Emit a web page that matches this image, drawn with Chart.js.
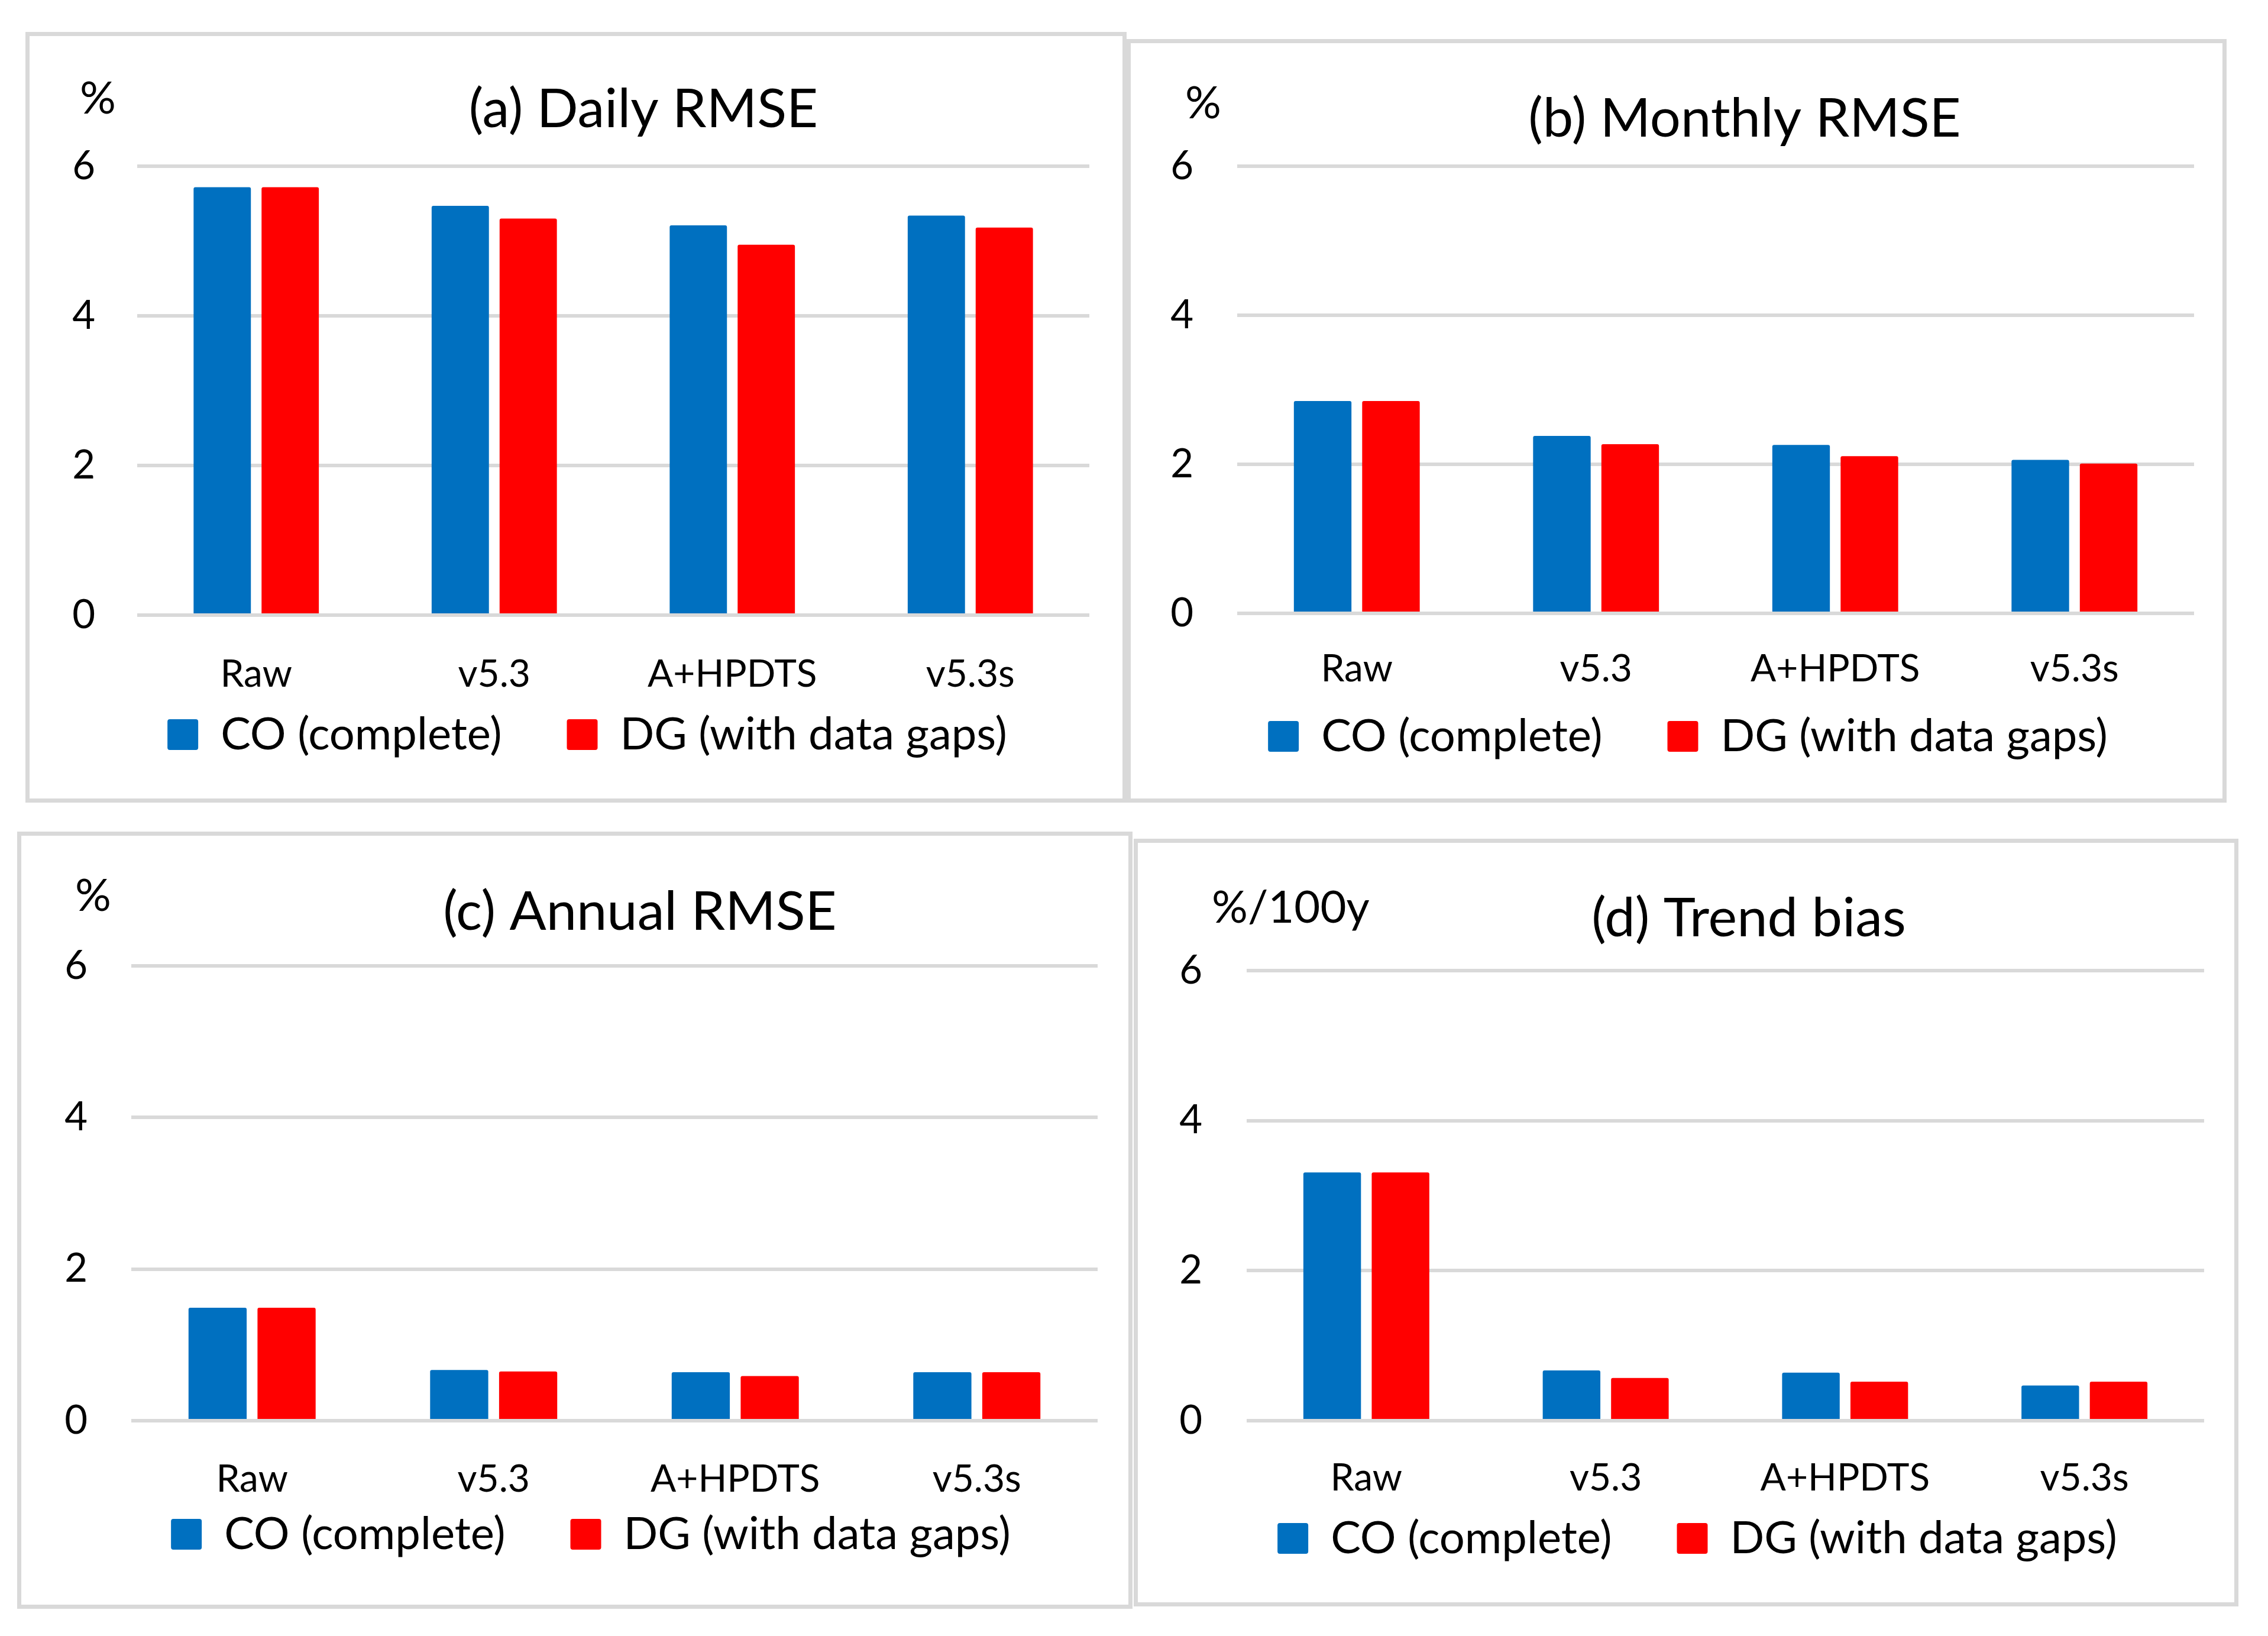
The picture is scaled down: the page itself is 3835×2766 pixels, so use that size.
<!DOCTYPE html>
<html>
<head>
<meta charset="utf-8">
<script src="https://cdn.jsdelivr.net/npm/chart.js@4.4.1/dist/chart.umd.min.js"></script>
<style>
  html, body { margin: 0; padding: 0; background: #ffffff; }
  body { width: 3835px; height: 2766px; position: relative; overflow: hidden; }
  .panel { position: absolute; box-sizing: border-box; border: 7px solid #d9d9d9; background: #fff; }
  .panel canvas { display: block; }
</style>
</head>
<body>
<div class="panel" id="pa" style="left:43px;top:54px;width:1862px;height:1303px;"><canvas id="ca"></canvas></div>
<div class="panel" id="pb" style="left:1905px;top:66px;width:1860px;height:1291px;"><canvas id="cb"></canvas></div>
<div class="panel" id="pc" style="left:29px;top:1406px;width:1886px;height:1314px;"><canvas id="cc"></canvas></div>
<div class="panel" id="pd" style="left:1917px;top:1418px;width:1868px;height:1298px;"><canvas id="cd"></canvas></div>
<script>
// ---- data ----
const categories = ['Raw', 'v5.3', 'A+HPDTS', 'v5.3s'];
const seriesNames = ['CO (complete)', 'DG (with data gaps)'];
const titles = ['(a) Daily RMSE', '(b) Monthly RMSE', '(c) Annual RMSE', '(d) Trend bias'];
const units = ['%', '%', '%', '%/100y'];
const yTicks = [0, 2, 4, 6];

const dailyCO   = [5.72, 5.47, 5.21, 5.34];
const dailyDG   = [5.72, 5.30, 4.95, 5.18];
const monthlyCO = [2.85, 2.38, 2.26, 2.06];
const monthlyDG = [2.85, 2.27, 2.11, 2.01];
const annualCO  = [1.49, 0.67, 0.64, 0.64];
const annualDG  = [1.49, 0.65, 0.59, 0.64];
const trendCO   = [3.31, 0.67, 0.64, 0.47];
const trendDG   = [3.31, 0.57, 0.52, 0.52];

// ---- styles / layout ----
const FONT = 'Lato';
const COLORS = ['#0070C0', '#FF0000'];
const GRID = '#d9d9d9';
const SIZES = { tick: 67, cat: 64, legend: 76, title: 92, unit: 76, legendBox: 52, legendGap: 110 };

const panels = [
  { canvas: 'ca', co: dailyCO,   dg: dailyDG,   W: 1848, H: 1289, top: 220, bottom: 979, left: 182, right: 1792, legendY: 1181, legendX: 943, catY: 1073, tickRight: 111, titleX: 1038, titleY: 124, unitX: 85,  unitY: 106 },
  { canvas: 'cb', co: monthlyCO, dg: monthlyDG, W: 1846, H: 1277, top: 208, bottom: 964, left: 180, right: 1798, legendY: 1172, legendX: 942, catY: 1052, tickRight: 106, titleX: 1038, titleY: 128, unitX: 92,  unitY: 102 },
  { canvas: 'cc', co: annualCO,  dg: annualDG,  W: 1872, H: 1300, top: 220, bottom: 989, left: 186, right: 1820, legendY: 1181, legendX: 963, catY: 1082, tickRight: 112, titleX: 1046, titleY: 129, unitX: 91,  unitY: 102 },
  { canvas: 'cd', co: trendCO,   dg: trendDG,   W: 1854, H: 1284, top: 216, bottom: 977, left: 184, right: 1803, legendY: 1176, legendX: 946, catY: 1068, tickRight: 109, titleX: 1033, titleY: 128, unitX: 125, unitY: 110 }
];

const panelText = {
  id: 'panelText',
  afterLayout(chart, args, opts) {
    // place the legend row centred on opts.legendX with its items centred on opts.legendY
    const lg = chart.legend;
    if (!lg) return;
    const p = lg.options.labels.padding;
    const ih = Math.max(SIZES.legend, SIZES.legendBox);
    lg.left = opts.legendX - 3000;
    lg.right = opts.legendX + 3000;
    lg.top = opts.legendY - p - ih / 2;
    lg.bottom = lg.top + ih + p + 10;
  },
  afterDraw(chart, args, opts) {
    const ctx = chart.ctx;
    ctx.save();
    ctx.fillStyle = '#000';
    ctx.textBaseline = 'middle';
    ctx.textAlign = 'center';
    ctx.font = SIZES.title + 'px ' + FONT;
    ctx.fillText(opts.title, opts.titleX, opts.titleY);
    ctx.textAlign = 'left';
    ctx.font = SIZES.unit + 'px ' + FONT;
    ctx.fillText(opts.unit, opts.unitX, opts.unitY);
    ctx.restore();
  }
};

function build(p, i) {
  const xH = p.catY + 55 - p.bottom;          // x axis box tall enough for its labels
  const legendH = p.H - p.bottom - xH;        // remaining space for the legend box
  const padR = p.W - p.right;
  const yW = p.left;
  const xPad = p.catY - 2 - p.bottom - 0.6 * SIZES.cat;
  const yPad = p.left - p.tickRight;

  new Chart(document.getElementById(p.canvas), {
    type: 'bar',
    data: {
      labels: categories,
      datasets: [
        { label: seriesNames[0], data: p.co, backgroundColor: COLORS[0], borderWidth: 0, borderRadius: 3, borderSkipped: 'bottom',
          categoryPercentage: 0.571, barPercentage: 0.843 },
        { label: seriesNames[1], data: p.dg, backgroundColor: COLORS[1], borderWidth: 0, borderRadius: 3, borderSkipped: 'bottom',
          categoryPercentage: 0.571, barPercentage: 0.843 }
      ]
    },
    options: {
      responsive: true,
      maintainAspectRatio: false,
      devicePixelRatio: 1,
      animation: false,
      layout: { padding: { top: p.top, bottom: 0, left: 0, right: padR } },
      scales: {
        x: {
          grid: { display: false },
          border: { display: false },
          ticks: { color: '#000', font: { family: FONT, size: SIZES.cat }, padding: xPad, maxRotation: 0, autoSkip: false },
          afterFit: (s) => { s.height = xH; }
        },
        y: {
          min: 0, max: 6,
          afterBuildTicks: (s) => { s.ticks = yTicks.map(v => ({ value: v })); },
          grid: { color: GRID, lineWidth: 6, drawTicks: false },
          border: { display: false },
          ticks: { color: '#000', font: { family: FONT, size: SIZES.tick }, padding: yPad },
          afterFit: (s) => { s.width = yW; }
        }
      },
      plugins: {
        title: { display: false },
        tooltip: { enabled: false },
        legend: {
          display: true,
          position: 'bottom',
          maxHeight: legendH,
          labels: {
            color: '#000',
            font: { family: FONT, size: SIZES.legend },
            boxWidth: SIZES.legendBox,
            boxHeight: SIZES.legendBox,
            padding: SIZES.legendGap,
            useBorderRadius: true,
            borderRadius: 4
          }
        },
        panelText: { title: titles[i], unit: units[i], titleX: p.titleX, titleY: p.titleY, unitX: p.unitX, unitY: p.unitY,
                     legendX: p.legendX, legendY: p.legendY }
      }
    },
    plugins: [panelText]
  });
}

function start() { panels.forEach(build); }
if (document.fonts && document.fonts.load) {
  Promise.all([document.fonts.load('67px Lato'), document.fonts.load('92px Lato')]).then(start, start);
} else { start(); }
</script>
</body>
</html>
